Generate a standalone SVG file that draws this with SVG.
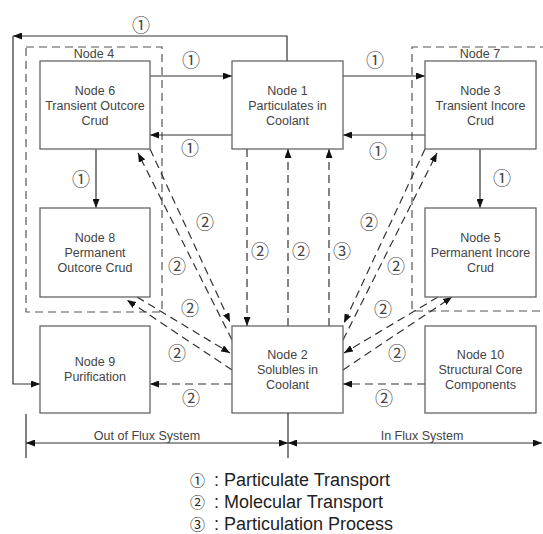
<svg xmlns="http://www.w3.org/2000/svg" width="543" height="534" viewBox="0 0 543 534">
<style>
.box{fill:#fff;stroke:#666;stroke-width:1.3}
.grp{fill:none;stroke:#555;stroke-width:1.2;stroke-dasharray:8 5}
.t{font-family:"Liberation Sans",Arial,sans-serif;font-size:12.5px;fill:#444;text-anchor:middle}
.c{font-family:"Noto Sans CJK KR","DejaVu Sans",sans-serif;font-size:18px;fill:#444;text-anchor:middle}
.ln{fill:none;stroke:#333;stroke-width:1.2}
.ds{fill:none;stroke:#333;stroke-width:1.2;stroke-dasharray:8 5}
.lg{font-family:"Liberation Sans",Arial,sans-serif;font-size:18px;fill:#222}
.lgc{font-family:"Noto Sans CJK KR","DejaVu Sans",sans-serif;font-size:15px;fill:#222}
</style>
<defs>
<marker id="ah" markerUnits="userSpaceOnUse" markerWidth="9" markerHeight="7" refX="9" refY="3.5" orient="auto"><path d="M0,0 L9,3.5 L0,7 z" fill="#111"/></marker>
<marker id="ad" markerUnits="userSpaceOnUse" markerWidth="9" markerHeight="7" refX="9" refY="3.5" orient="auto-start-reverse"><path d="M0,0 L9,3.5 L0,7 z" fill="#111"/></marker>
</defs>
<rect width="543" height="534" fill="#fff"/>

<g id="node4"><rect class="grp" x="26" y="47" width="136" height="265"/><text class="t" x="94" y="58">Node 4</text></g>
<g id="node7"><path class="grp" d="M548,47 H412 V311 H548"/><text class="t" x="480" y="58">Node 7</text></g>

<g id="connectors">
<path class="ln" d="M287,61 V36 H13" marker-end="url(#ah)"/>
<path class="ln" d="M13,36 V384 H40" marker-end="url(#ah)"/>
<path class="ln" d="M150,76 H232" marker-end="url(#ah)"/>
<path class="ln" d="M232,135 H150" marker-end="url(#ah)"/>
<path class="ln" d="M343,76 H425" marker-end="url(#ah)"/>
<path class="ln" d="M425,135 H343" marker-end="url(#ah)"/>
<path class="ln" d="M96,149 V208" marker-end="url(#ah)"/>
<path class="ln" d="M480,149 V208" marker-end="url(#ah)"/>
<path class="ds" d="M247,149 V326" marker-end="url(#ah)"/>
<path class="ds" d="M288,326 V149" marker-end="url(#ah)"/>
<path class="ds" d="M329,326 V149" marker-end="url(#ah)"/>
<path class="ds" d="M150,149 L230,322" marker-end="url(#ah)"/>
<path class="ds" d="M232,340 L138,153" marker-end="url(#ah)"/>
<path class="ds" d="M137,297 L230,353" marker-end="url(#ah)"/>
<path class="ds" d="M232,370 L127,300" marker-end="url(#ah)"/>
<path class="ds" d="M232,384 H150" marker-end="url(#ah)"/>
<path class="ds" d="M425,149 L344,323" marker-end="url(#ah)"/>
<path class="ds" d="M343,340 L437,153" marker-end="url(#ah)"/>
<path class="ds" d="M438,297 L344,353" marker-end="url(#ah)"/>
<path class="ds" d="M343,370 L452,297" marker-end="url(#ah)"/>
<path class="ds" d="M425,384 H343" marker-end="url(#ah)"/>
<text class="c" x="141" y="32">①</text>
<text class="c" x="191" y="67">①</text>
<text class="c" x="190" y="155">①</text>
<text class="c" x="375" y="67">①</text>
<text class="c" x="378" y="158">①</text>
<text class="c" x="81" y="186">①</text>
<text class="c" x="502" y="185">①</text>
<text class="c" x="260" y="258">②</text>
<text class="c" x="301" y="258">②</text>
<text class="c" x="342" y="258">③</text>
<text class="c" x="205" y="229">②</text>
<text class="c" x="177" y="273">②</text>
<text class="c" x="190" y="315">②</text>
<text class="c" x="177" y="360">②</text>
<text class="c" x="191" y="405">②</text>
<text class="c" x="369" y="229">②</text>
<text class="c" x="396" y="273">②</text>
<text class="c" x="383" y="316">②</text>
<text class="c" x="397" y="360">②</text>
<text class="c" x="384" y="405">②</text>
</g>

<g id="node6"><rect class="box" x="40" y="61" width="110" height="88"/><text class="t" x="95" y="95">Node 6</text><text class="t" x="95" y="110">Transient Outcore</text><text class="t" x="95" y="124.5">Crud</text></g>
<g id="node1"><rect class="box" x="232" y="61" width="111" height="88"/><text class="t" x="287.5" y="95">Node 1</text><text class="t" x="287.5" y="110">Particulates in</text><text class="t" x="287.5" y="124.5">Coolant</text></g>
<g id="node3"><rect class="box" x="425" y="61" width="111" height="88"/><text class="t" x="480.5" y="95">Node 3</text><text class="t" x="480.5" y="110">Transient Incore</text><text class="t" x="480.5" y="124.5">Crud</text></g>
<g id="node8"><rect class="box" x="40" y="208" width="110" height="89"/><text class="t" x="95" y="241.5">Node 8</text><text class="t" x="95" y="256.5">Permanent</text><text class="t" x="95" y="271.5">Outcore Crud</text></g>
<g id="node5"><rect class="box" x="425" y="208" width="111" height="89"/><text class="t" x="480.5" y="241.5">Node 5</text><text class="t" x="480.5" y="256.5">Permanent Incore</text><text class="t" x="480.5" y="271.5">Crud</text></g>
<g id="node9"><rect class="box" x="40" y="326" width="110" height="87"/><text class="t" x="95" y="366">Node 9</text><text class="t" x="95" y="381">Purification</text></g>
<g id="node2"><rect class="box" x="232" y="326" width="111" height="87"/><text class="t" x="287.5" y="359">Node 2</text><text class="t" x="287.5" y="374">Solubles in</text><text class="t" x="287.5" y="389">Coolant</text></g>
<g id="node10"><rect class="box" x="425" y="326" width="111" height="87"/><text class="t" x="480.5" y="359">Node 10</text><text class="t" x="480.5" y="374">Structural Core</text><text class="t" x="480.5" y="389">Components</text></g>

<g id="dimension">
<path class="ln" d="M26,414 V458 M288,413 V458"/>
<path class="ln" d="M26,443 H288" marker-start="url(#ad)" marker-end="url(#ad)"/>
<path class="ln" d="M288,443 H542" marker-start="url(#ad)" marker-end="url(#ad)"/>
<text class="t" x="147" y="440">Out of Flux System</text>
<text class="t" x="422" y="440">In Flux System</text>
</g>

<g id="legend">
<text class="lg" y="486"><tspan class="lgc" x="190">①</tspan><tspan x="214">: Particulate Transport</tspan></text>
<text class="lg" y="508"><tspan class="lgc" x="190">②</tspan><tspan x="214">: Molecular Transport</tspan></text>
<text class="lg" y="530"><tspan class="lgc" x="190">③</tspan><tspan x="214">: Particulation Process</tspan></text>
</g>
</svg>
